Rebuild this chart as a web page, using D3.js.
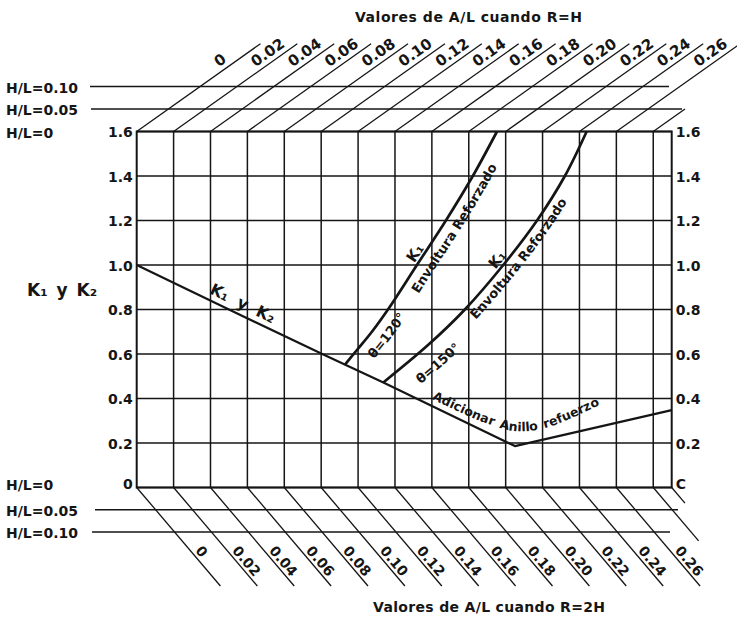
<!DOCTYPE html>
<html>
<head>
<meta charset="utf-8">
<script src="https://cdn.jsdelivr.net/npm/d3@7/dist/d3.min.js"></script>
<style>
html,body{margin:0;padding:0;background:#fff;}
svg text{font-family:"DejaVu Sans",sans-serif;font-weight:bold;fill:#151515;}
</style>
</head>
<body>
<svg id="chart" width="737" height="620" xmlns="http://www.w3.org/2000/svg" xmlns:xlink="http://www.w3.org/1999/xlink"></svg>
<script>
// ---------------- data ----------------
const alValues = [0,0.02,0.04,0.06,0.08,0.10,0.12,0.14,0.16,0.18,0.20,0.22,0.24,0.26];
const alLabels = ["0","0.02","0.04","0.06","0.08","0.10","0.12","0.14","0.16","0.18","0.20","0.22","0.24","0.26"];
const gridAL = [0.02,0.04,0.06,0.08,0.10,0.12,0.14,0.16,0.18,0.20,0.22,0.24,0.26,0.28];
const kTicks = [0,0.2,0.4,0.6,0.8,1.0,1.2,1.4,1.6];
const kLabelsLeft = ["0","0.2","0.4","0.6","0.8","1.0","1.2","1.4","1.6"];
const kLabelsRight = ["C","0.2","0.4","0.6","0.8","1.0","1.2","1.4","1.6"];
const hlValues = [0,0.05,0.10];
const hlLabels = ["H/L=0","H/L=0.05","H/L=0.10"];
const titleTop = "Valores de A/L cuando R=H";
const titleBottom = "Valores de A/L cuando R=2H";
const yTitle = "K\u2081 y K\u2082";

// K1 y K2 line (A/L, K)
const k1k2 = [[0,1.0],[0.05,0.80],[0.10,0.602],[0.1337,0.472],[0.205,0.186],[0.29,0.348]];
// K1 envelope, theta = 120
const env120 = [[0.1129,0.552],[0.1194,0.618],[0.1275,0.70],[0.1362,0.80],[0.1519,1.0],[0.1676,1.2],[0.1822,1.4],[0.1953,1.6]];
// K1 envelope, theta = 150
const env150 = [[0.1337,0.472],[0.1579,0.640],[0.1779,0.80],[0.1987,1.0],[0.2170,1.2],[0.2321,1.4],[0.2439,1.6]];
// guide for the "Adicionar Anillo refuerzo" annotation
const ringGuide = [[0.159,0.402],[0.1877,0.294],[0.205,0.254],[0.2213,0.267],[0.2511,0.371],[0.265,0.425]];

// ---------------- scales ----------------
const svg = d3.select("#chart");
const x = d3.scaleLinear().domain([0,0.29]).range([136.7,671.7]);
const y = d3.scaleLinear().domain([0,1.6]).range([487.5,131.5]);
const hlTop = d3.scaleLinear().domain([0,0.10]).range([y(1.6), y(1.6)-45]);
const hlBot = d3.scaleLinear().domain([0,0.10]).range([y(0), y(0)+44.5]);
const TOP_RUN = 1.41, BOT_RUN = 0.85;
const TOP_END_HL = 0.195, BOT_END_HL = 0.2213;
const topPt = (a,h)=>[x(a)+(hlTop(0)-hlTop(h))*TOP_RUN, hlTop(h)];
const botPt = (a,h)=>[x(a)+(hlBot(h)-hlBot(0))*BOT_RUN, hlBot(h)];
const INK = "#151515";

// ---------------- grid ----------------
const grid = svg.append("g");
grid.selectAll("line.gv").data(gridAL).join("line").attr("class","gv")
  .attr("x1",d=>x(d)).attr("x2",d=>x(d)).attr("y1",y(0)).attr("y2",y(1.6))
  .attr("stroke",INK).attr("stroke-width",1.5);
grid.selectAll("line.gh").data(kTicks).join("line").attr("class","gh")
  .attr("x1",x(0)).attr("x2",x(0.29)).attr("y1",d=>y(d)).attr("y2",d=>y(d))
  .attr("stroke",INK).attr("stroke-width",1.5);
grid.append("rect").attr("x",x(0)).attr("y",y(1.6)).attr("width",x(0.29)-x(0)).attr("height",y(0)-y(1.6))
  .attr("fill","none").attr("stroke",INK).attr("stroke-width",2);

// ---------------- nomogram diagonals ----------------
const topDiag = alValues.map(a=>({a,h:TOP_END_HL})).concat([{a:gridAL[gridAL.length-1],h:0.05}]);
const botDiag = alValues.map(a=>({a,h:BOT_END_HL})).concat([{a:gridAL[gridAL.length-1],h:0.12},{a:0.29,h:0.035}]);
const dg = svg.append("g").attr("stroke",INK).attr("stroke-width",1.3);
dg.selectAll("line.td").data(topDiag).join("line").attr("class","td")
  .attr("x1",d=>topPt(d.a,0)[0]).attr("y1",d=>topPt(d.a,0)[1])
  .attr("x2",d=>topPt(d.a,d.h)[0]).attr("y2",d=>topPt(d.a,d.h)[1]);
dg.selectAll("line.bd").data(botDiag).join("line").attr("class","bd")
  .attr("x1",d=>botPt(d.a,0)[0]).attr("y1",d=>botPt(d.a,0)[1])
  .attr("x2",d=>botPt(d.a,d.h)[0]).attr("y2",d=>botPt(d.a,d.h)[1]);

// H/L horizontal reference lines
const hlTopLines = [{h:0.05,x1:91,x2:682},{h:0.10,x1:90,x2:669}];
const hlBotLines = [{h:0.05,x1:95,x2:678},{h:0.10,x1:92,x2:670}];
svg.append("g").selectAll("line").data(hlTopLines).join("line")
  .attr("x1",d=>d.x1).attr("x2",d=>d.x2).attr("y1",d=>hlTop(d.h)).attr("y2",d=>hlTop(d.h))
  .attr("stroke",INK).attr("stroke-width",1.5);
svg.append("g").selectAll("line").data(hlBotLines).join("line")
  .attr("x1",d=>d.x1).attr("x2",d=>d.x2).attr("y1",d=>hlBot(d.h)).attr("y2",d=>hlBot(d.h))
  .attr("stroke",INK).attr("stroke-width",1.5);

// H/L labels
svg.append("g").selectAll("text").data(hlValues).join("text")
  .attr("x",6).attr("y",d=>hlTop(d)+6).attr("font-size",14).text((d,i)=>hlLabels[i]);
svg.append("g").selectAll("text").data(hlValues).join("text")
  .attr("x",6).attr("y",d=>hlBot(d)+(d===0?2:6)).attr("font-size",14).text((d,i)=>hlLabels[i]);

// diagonal labels
const tAng = Math.atan2(-1, TOP_RUN), bAng = Math.atan2(1, BOT_RUN);
const tu=[Math.cos(tAng),Math.sin(tAng)], tUp=[Math.sin(tAng),-Math.cos(tAng)];
const bu=[Math.cos(bAng),Math.sin(bAng)], bUp=[Math.sin(bAng),-Math.cos(bAng)];
const deg = r=>r*180/Math.PI;
svg.append("g").selectAll("text").data(alValues).join("text")
  .attr("font-size",15)
  .attr("transform",d=>{const s=topPt(d,0); const px=s[0]+104*tu[0]+5*tUp[0], py=s[1]+104*tu[1]+5*tUp[1]; return `translate(${px},${py}) rotate(${deg(tAng)})`;})
  .text((d,i)=>alLabels[i]);
svg.append("g").selectAll("text").data(alValues).join("text")
  .attr("font-size",14)
  .attr("transform",d=>{const s=botPt(d,0); const px=s[0]+86*bu[0]+3*bUp[0], py=s[1]+86*bu[1]+3*bUp[1]; return `translate(${px},${py}) rotate(${deg(bAng)})`;})
  .text((d,i)=>alLabels[i]);

// ---------------- axes (tick labels) ----------------
const axL = svg.append("g").attr("transform",`translate(${x(0)},0)`)
  .call(d3.axisLeft(y).tickValues(kTicks).tickSize(0).tickPadding(4).tickFormat((d,i)=>kLabelsLeft[i]));
const axR = svg.append("g").attr("transform",`translate(${x(0.29)},0)`)
  .call(d3.axisRight(y).tickValues(kTicks).tickSize(0).tickPadding(4).tickFormat((d,i)=>kLabelsRight[i]));
[axL,axR].forEach(ax=>{
  ax.select(".domain").remove();
  ax.attr("font-family",null).attr("font-size",null);
  ax.selectAll("text").attr("font-size",14).attr("fill",INK).attr("dy",d=>d===0?"0.1em":"0.36em");
});

// titles
svg.append("text").attr("x",355).attr("y",22).attr("font-size",14)
  .attr("textLength",227).attr("lengthAdjust","spacing").text(titleTop);
svg.append("text").attr("x",373).attr("y",612).attr("font-size",14)
  .attr("textLength",232).attr("lengthAdjust","spacing").text(titleBottom);
svg.append("text").attr("x",27).attr("y",296).attr("font-size",17).attr("word-spacing",3).text(yTitle);

// ---------------- curves ----------------
const line = d3.line().x(d=>x(d[0])).y(d=>y(d[1]));
const curvesG = svg.append("g").attr("fill","none").attr("stroke",INK).attr("stroke-linejoin","round");
const mainPath = curvesG.append("path").datum(k1k2).attr("d",line.curve(d3.curveLinear)).attr("stroke-width",2.2);
const smooth = d3.line().x(d=>x(d[0])).y(d=>y(d[1])).curve(d3.curveCatmullRom.alpha(0.5));
const p120 = curvesG.append("path").datum(env120).attr("d",smooth).attr("stroke-width",2.7);
const p150 = curvesG.append("path").datum(env150).attr("d",smooth).attr("stroke-width",2.7);

// ---------------- curve labels (text on offset paths) ----------------
const defs = svg.append("defs");
let pid = 0;
function offsetPath(node, off){
  const L = node.getTotalLength(), pts=[];
  for(let s=0;s<=L;s+=3){const p=node.getPointAtLength(s); pts.push([p.x,p.y]);}
  const e=node.getPointAtLength(L); pts.push([e.x,e.y]);
  const o = pts.map((p,i)=>{const a=pts[Math.max(0,i-1)], b=pts[Math.min(pts.length-1,i+1)];
    let dx=b[0]-a[0], dy=b[1]-a[1]; const l=Math.hypot(dx,dy)||1; dx/=l; dy/=l;
    return [p[0]-dy*off, p[1]+dx*off];});
  const id = "lp"+(pid++);
  const pth = defs.append("path").attr("id",id).attr("d",d3.line().curve(d3.curveBasis)(o));
  return {id, node:pth.node()};
}
function lenAtY(node, ty){const L=node.getTotalLength(); let best=0,bd=Infinity;
  for(let s=0;s<=L;s+=0.5){const p=node.getPointAtLength(s); const d=Math.abs(p.y-ty); if(d<bd){bd=d;best=s;}} return best;}
function nearestLen(node, px, py){const L=node.getTotalLength(); let best=0,bd=Infinity;
  for(let s=0;s<=L;s+=0.5){const p=node.getPointAtLength(s); const d=(p.x-px)**2+(p.y-py)**2; if(d<bd){bd=d;best=s;}} return best;}
function pathLabel(pathSel, off, v, txt, size, ws){
  const node = pathSel.node();
  const s0 = lenAtY(node, y(v)); const p0 = node.getPointAtLength(s0);
  const op = offsetPath(node, off);
  const so = nearestLen(op.node, p0.x, p0.y);
  const t = svg.append("text").attr("font-size",size).attr("word-spacing",ws||0);
  t.append("textPath").attr("href","#"+op.id).attr("xlink:href","#"+op.id).attr("startOffset",so).text(txt);
}
const curveLabels = [
  {p:p120, off:19, v:0.63, t:"\u03B8=120\u00B0", s:13},
  {p:p120, off:17, v:0.91, t:"Envoltura Reforzado", s:13},
  {p:p120, off:-3, v:1.0,  t:"K\u2081", s:15},
  {p:p150, off:25, v:0.55, t:"\u03B8=150\u00B0", s:13},
  {p:p150, off:15, v:0.80, t:"Envoltura Reforzado", s:13},
  {p:p150, off:-3, v:0.97, t:"K\u2081", s:15},
  {p:mainPath, off:-6, v:0.85, t:"K\u2081 y K\u2082", s:16, ws:5}
];
curveLabels.forEach(c=>pathLabel(c.p, c.off, c.v, c.t, c.s, c.ws));

// annotation along the V of the K1 y K2 line
const gid = "ringGuide";
defs.append("path").attr("id",gid).datum(ringGuide).attr("d",smooth);
svg.append("text").attr("font-size",12.5).attr("word-spacing",2)
  .append("textPath").attr("href","#"+gid).attr("xlink:href","#"+gid).attr("startOffset",2)
  .text("Adicionar Anillo refuerzo");
</script>
</body>
</html>
